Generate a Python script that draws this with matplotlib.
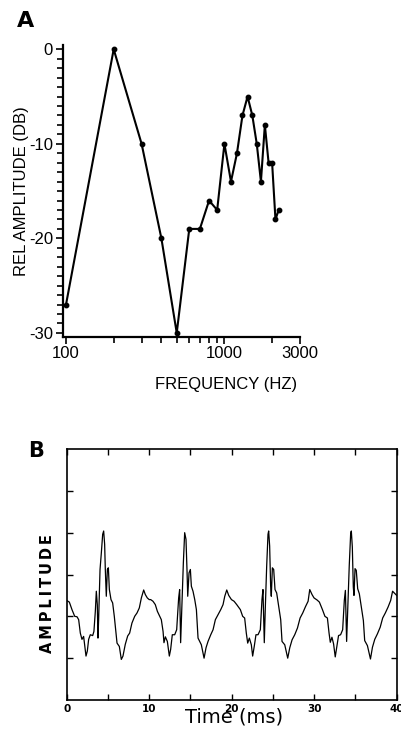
import numpy as np
import matplotlib.pyplot as plt
from matplotlib.ticker import FixedLocator, NullFormatter, FixedFormatter

plt.rcParams['axes.unicode_minus'] = False
plt.rcParams['font.family'] = ['Liberation Sans', 'DejaVu Sans']

# panel A: harmonic spectrum
freq_hz = [100, 200, 300, 400, 500, 600, 700, 800, 900, 1000, 1100,
           1200, 1300, 1400, 1500, 1600, 1700, 1800, 1900, 2000, 2100, 2200]
rel_db = [-27, 0, -10, -20, -30, -19, -19, -16, -17, -10, -14,
          -11, -7, -5, -7, -10, -14, -8, -12, -12, -18, -17]

# panel B: waveform
time_ms = [0.0, 0.32, 0.64, 0.97, 1.25, 1.45, 1.65, 1.85, 2.05, 2.34, 2.5, 2.66,
           2.86, 3.15, 3.3, 3.47, 3.59, 3.71, 3.79, 3.87, 4.04, 4.2, 4.36, 4.48,
           4.6, 4.68, 4.8, 4.93, 5.05, 5.17, 5.37, 5.57, 5.77, 5.97, 6.1, 6.38,
           6.62, 6.82, 7.1, 7.39, 7.63, 7.91, 8.24, 8.52, 8.8, 9.05, 9.33, 9.53,
           9.77, 10.0, 10.18, 10.46, 10.74, 10.99, 11.27, 11.47, 11.68, 11.79,
           11.96, 12.2, 12.44, 12.6, 12.8, 13.09, 13.33, 13.57, 13.69, 13.81,
           13.98, 14.14, 14.3, 14.46, 14.58, 14.67, 14.83, 14.99, 15.11, 15.31,
           15.52, 15.72, 15.92, 16.12, 16.32, 16.65, 16.89, 17.13, 17.46, 17.74,
           18.02, 18.35, 18.67, 18.95, 19.16, 19.4, 19.64, 19.97, 20.29, 20.61,
           21.05, 21.33, 21.57, 21.77, 21.94, 22.14, 22.38, 22.54, 22.74, 22.94,
           23.19, 23.47, 23.67, 23.79, 23.95, 24.08, 24.24, 24.4, 24.48, 24.6,
           24.72, 24.8, 24.93, 25.09, 25.25, 25.45, 25.7, 25.94, 26.1, 26.43,
           26.79, 27.04, 27.32, 27.64, 27.97, 28.29, 28.61, 28.94, 29.26, 29.46,
           29.74, 29.98, 30.35, 30.63, 31.0, 31.3, 31.6, 31.8, 31.95, 32.15,
           32.35, 32.55, 32.75, 32.95, 33.2, 33.45, 33.65, 33.78, 33.93, 34.08,
           34.25, 34.42, 34.5, 34.62, 34.74, 34.82, 34.95, 35.1, 35.27, 35.47,
           35.72, 35.96, 36.12, 36.45, 36.82, 37.06, 37.34, 37.66, 38.0, 38.3,
           38.62, 38.95, 39.27, 39.5, 39.75, 40.0]
amp = [-0.62, -0.66, -0.84, -1.0, -1.01, -1.08, -1.4, -1.55, -1.48, -1.95, -1.83, -1.55,
       -1.44, -1.46, -1.36, -0.88, -0.4, -0.72, -1.52, -1.08, 0.12, 0.52, 0.96, 1.04,
       0.72, 0.12, -0.52, 0.12, 0.16, -0.36, -0.6, -0.68, -1.0, -1.4, -1.64, -1.72,
       -2.03, -1.95, -1.67, -1.47, -1.4, -1.16, -1.0, -0.92, -0.8, -0.56, -0.37, -0.48,
       -0.56, -0.6, -0.6, -0.64, -0.72, -0.88, -1.0, -1.08, -1.36, -1.63,
       -1.49, -1.6, -1.95, -1.79, -1.44, -1.44, -1.32, -0.56, -0.36, -1.63,
       -0.68, 0.28, 1.0, 0.84, 0.12, -0.52, 0.04, 0.12, -0.28, -0.4,
       -0.6, -0.84, -1.52, -1.6, -1.68, -2.0, -1.75, -1.6, -1.44, -1.32,
       -1.08, -0.96, -0.84, -0.72, -0.52, -0.37, -0.5, -0.6, -0.64, -0.72,
       -0.84, -1.0, -1.04, -1.4, -1.64, -1.52, -1.68, -1.95, -1.71, -1.44,
       -1.44, -1.32, -0.6, -0.36, -1.63, -0.76, 0.2, 0.96, 1.04, 0.68,
       -0.28, -0.52, 0.16, 0.12, -0.36, -0.44, -0.76, -1.08, -1.6, -1.68,
       -2.0, -1.75, -1.56, -1.44, -1.28, -1.04, -0.92, -0.77, -0.64, -0.36,
       -0.48, -0.56, -0.61, -0.66, -0.84, -1.0, -1.04, -1.4, -1.62, -1.5,
       -1.66, -1.97, -1.72, -1.46, -1.44, -1.32, -0.62, -0.38, -1.6, -0.74,
       0.22, 0.98, 1.04, 0.66, -0.3, -0.5, 0.14, 0.1, -0.34, -0.46,
       -0.78, -1.1, -1.58, -1.7, -2.02, -1.74, -1.55, -1.42, -1.26, -1.04,
       -0.92, -0.78, -0.62, -0.4, -0.45, -0.5]

W, H = 401, 730
fig = plt.figure(figsize=(W / 100, H / 100), dpi=100)


def box(left, top, right, bottom):
    # pixel box -> figure fraction
    return [left / W, 1 - bottom / H, (right - left) / W, (bottom - top) / H]


# ---- A ----
axa = fig.add_axes(box(62.7, 45, 300, 336.7))
axa.plot(freq_hz, rel_db, color='black', lw=1.5, marker='o', ms=3.2)
axa.set_xscale('log')
axa.set_xlim(95.3, 3000)
axa.set_ylim(-30.4, 0.45)
axa.spines['top'].set_visible(False)
axa.spines['right'].set_visible(False)
for s in ('left', 'bottom'):
    axa.spines[s].set_linewidth(1.6)

axa.xaxis.set_major_locator(FixedLocator([100, 1000, 3000]))
axa.xaxis.set_major_formatter(FixedFormatter(['100', '1000', '3000']))
axa.xaxis.set_minor_locator(FixedLocator([200, 300, 400, 500, 600, 700, 800, 900, 2000]))
axa.xaxis.set_minor_formatter(NullFormatter())
axa.set_yticks([0, -10, -20, -30])
axa.yaxis.set_minor_locator(FixedLocator(np.arange(-30, 1, 1)))
axa.tick_params(which='both', direction='out', width=1.2, labelsize=12, pad=2)
axa.tick_params(which='major', length=5)
axa.tick_params(which='minor', length=4)
axa.set_ylabel('REL AMPLITUDE (DB)', fontsize=12, labelpad=0)
fig.text(226 / W, 1 - 385 / H, 'FREQUENCY (HZ)', fontsize=12,
         ha='center', va='center')
fig.text(26 / W, 1 - 21 / H, 'A', fontsize=16, fontweight='bold',
         ha='center', va='center', family='DejaVu Sans')

# ---- B ----
axb = fig.add_axes(box(66.7, 449, 396.7, 700))
axb.plot(time_ms, amp, color='black', lw=0.9)
axb.set_xlim(0, 40)
axb.set_ylim(-3, 3)
for s in axb.spines.values():
    s.set_linewidth(1.2)
axb.set_xticks(np.arange(0, 41, 5))
axb.set_xticklabels(['0', '', '10', '', '20', '', '30', '', '40'])
axb.set_yticks([-2, -1, 0, 1, 2])
axb.set_yticklabels([])
axb.tick_params(direction='in', length=4, width=1, top=True, right=True,
                labelsize=7.5, pad=3)
for lab in axb.get_xticklabels():
    lab.set_fontweight('bold')
    lab.set_family('DejaVu Sans')
fig.text(234 / W, 1 - 717 / H, 'Time (ms)', fontsize=14,
         ha='center', va='center', family='DejaVu Sans')
fig.text(48 / W, 1 - 594 / H, 'A\u2009M\u2009P\u2009L\u2009I\u2009T\u2009U\u2009D\u2009E',
         fontsize=10.5, fontweight='bold', rotation=90,
         ha='center', va='center', family='DejaVu Sans')
fig.text(36 / W, 1 - 451 / H, 'B', fontsize=15, fontweight='bold',
         ha='center', va='center', family='DejaVu Sans')

fig.savefig('out.png', dpi=100)
